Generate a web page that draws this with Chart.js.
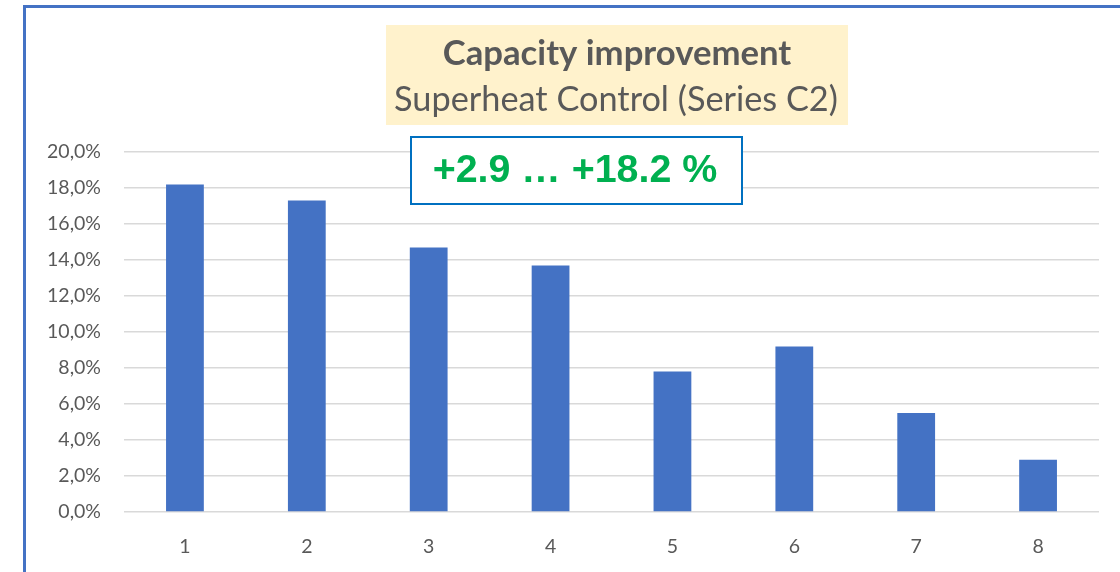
<!DOCTYPE html>
<html>
<head>
<meta charset="utf-8">
<script src="https://cdn.jsdelivr.net/npm/chart.js@4"></script>
<style>
  html, body { margin: 0; padding: 0; background: #fff; }
  #wrap { position: relative; width: 1120px; height: 572px; }
</style>
</head>
<body>
<div id="wrap"><canvas id="capChart" width="1120" height="572"></canvas></div>
<script>
const categories = ['1', '2', '3', '4', '5', '6', '7', '8'];
const improvement = [18.2, 17.3, 14.7, 13.7, 7.8, 9.2, 5.5, 2.9];
const yTicks = [0, 2, 4, 6, 8, 10, 12, 14, 16, 18, 20];
const titleText = 'Capacity improvement';
const subtitleText = 'Superheat Control (Series C2)';
const rangeText = '+2.9 \u2026 +18.2 %';

const FONT = 'Lato, "Open Sans", sans-serif';

// shrink/grow a font so the text spans a given width
function fitFont(ctx, text, weight, family, width) {
    ctx.font = `${weight} 100px ${family}`;
    const size = 100 * width / ctx.measureText(text).width;
    return `${weight} ${size.toFixed(1)}px ${family}`;
}

const decorations = {
    id: 'decorations',
    afterDraw(chart) {
        const ctx = chart.ctx;
        ctx.save();

        // frame (left + top edges of the slide box)
        ctx.strokeStyle = '#4472C4';
        ctx.lineWidth = 3;
        ctx.beginPath();
        ctx.moveTo(24.5, 572);
        ctx.lineTo(24.5, 6.5);
        ctx.lineTo(1120, 6.5);
        ctx.stroke();

        // title box
        ctx.fillStyle = '#FFF2CC';
        ctx.fillRect(386, 25, 462, 100);
        ctx.fillStyle = '#595959';
        ctx.textAlign = 'center';
        ctx.textBaseline = 'middle';
        ctx.font = fitFont(ctx, titleText, 'bold', FONT, 349);
        ctx.fillText(titleText, 617, 54);
        ctx.font = fitFont(ctx, subtitleText, 'normal', FONT, 444);
        ctx.fillText(subtitleText, 616, 100);

        // range box
        ctx.fillStyle = '#fff';
        ctx.fillRect(411, 137, 331, 67);
        ctx.strokeStyle = '#0070C0';
        ctx.lineWidth = 2;
        ctx.strokeRect(411, 137, 331, 67);
        ctx.fillStyle = '#00B050';
        ctx.font = fitFont(ctx, rangeText, 'bold', '"Liberation Sans", Arial, sans-serif', 285);
        ctx.fillText(rangeText, 575, 171);

        ctx.restore();
    }
};

new Chart(document.getElementById('capChart'), {
    type: 'bar',
    data: {
        labels: categories,
        datasets: [{
            label: 'Capacity improvement',
            data: improvement,
            backgroundColor: '#4472C4',
            borderWidth: 0,
            barPercentage: 0.31,
            categoryPercentage: 1.0
        }]
    },
    options: {
        responsive: false,
        animation: false,
        layout: { padding: { top: 152, right: 21, left: 0, bottom: 0 } },
        plugins: {
            legend: { display: false },
            tooltip: { enabled: false }
        },
        scales: {
            x: {
                grid: { display: false },
                border: { display: false },
                ticks: { color: '#595959', font: { family: FONT, size: 19.5 }, padding: 15 },
                afterFit: s => { s.height = 60; }
            },
            y: {
                min: 0,
                max: 20,
                afterBuildTicks: s => { s.ticks = yTicks.map(v => ({ value: v })); },
                grid: { color: '#D9D9D9', lineWidth: 1.5, drawTicks: false },
                border: { display: false },
                ticks: {
                    color: '#595959',
                    font: { family: FONT, size: 19.5 },
                    padding: 23,
                    callback: v => v.toFixed(1).replace('.', ',') + '%'
                },
                afterFit: s => { s.width = 124; }
            }
        }
    },
    plugins: [decorations]
});
</script>
</body>
</html>
